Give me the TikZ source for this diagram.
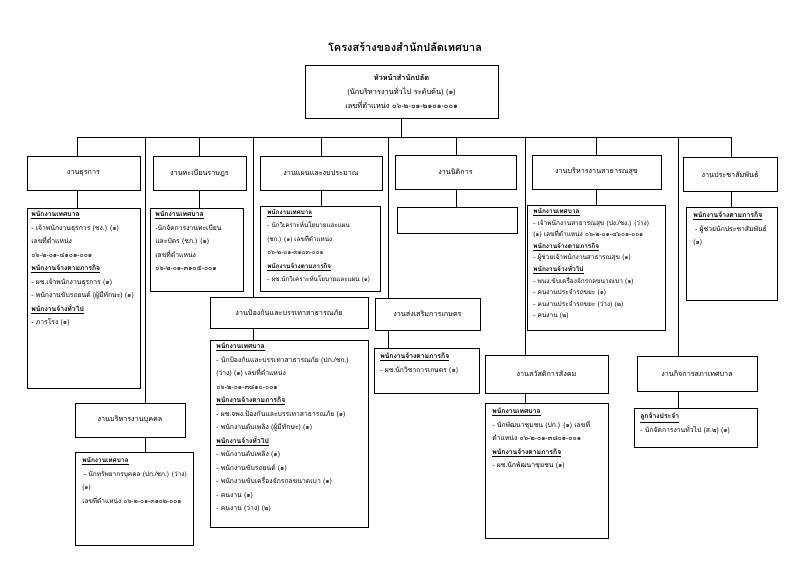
\documentclass[tikz,border=0pt]{standalone}
\usepackage{fontspec}
\setmainfont[Script=Thai]{Loma}
\usetikzlibrary{positioning}
\newcommand{\hd}[1]{\underline{\textbf{#1}}}

\begin{document}
\begin{tikzpicture}[x=1pt,y=-1pt,line width=0.6pt,
  hbox/.style={draw,inner sep=0pt,font=\fontsize{7.2}{9}\selectfont},
  cbox/.style={draw,inner sep=0pt,anchor=north west},
  ctxt/.style={anchor=north west,inner sep=0pt,align=left,font=\fontsize{6.8}{13.5}\selectfont}]
\useasboundingbox (0,0) rectangle (800,566);
\node[font=\bfseries\fontsize{11}{13}\selectfont] (title) at (405,47) {โครงสร้างของสำนักปลัดเทศบาล};
\node[hbox,minimum width=193,minimum height=53,align=center,font=\fontsize{7.4}{14}\selectfont] (top) at (401.5,91.5)
  {\textbf{หัวหน้าสำนักปลัด}\\(นักบริหารงานทั่วไป ระดับต้น) (๑)\\เลขที่ตำแหน่ง ๐๖-๒-๐๑-๒๑๐๑-๐๐๑};

\node[hbox,minimum width=113,minimum height=34] (h1) at (83.5,173) {งานธุรการ};
\node[hbox,minimum width=93,minimum height=34] (h2) at (199.5,173) {งานทะเบียนราษฎร};
\node[hbox,minimum width=122,minimum height=34] (h3) at (321,173) {งานแผนและงบประมาณ};
\node[hbox,minimum width=121,minimum height=34] (h4) at (455.5,172) {งานนิติการ};
\node[hbox,minimum width=129,minimum height=34] (h5) at (596.5,172) {งานบริหารงานสาธารณสุข};
\node[hbox,minimum width=94,minimum height=34] (h6) at (730,174) {งานประชาสัมพันธ์};
\node[hbox,minimum width=110,minimum height=34] (h7) at (130,420) {งานบริหารงานบุคคล};
\node[hbox,minimum width=158,minimum height=31] (h8) at (289,312.5) {งานป้องกันและบรรเทาสาธารณภัย};
\node[hbox,minimum width=105,minimum height=32] (h9) at (427.5,314) {งานส่งเสริมการเกษตร};
\node[hbox,minimum width=123,minimum height=38] (h10) at (546.5,374) {งานสวัสดิการสังคม};
\node[hbox,minimum width=120,minimum height=35] (h11) at (697,373.5) {งานกิจการสภาเทศบาล};

\node[cbox,minimum width=113,minimum height=180] (c1) at (27,208) {};
\node[cbox,minimum width=93,minimum height=83] (c2) at (150,208) {};
\node[cbox,minimum width=120,minimum height=85] (c3) at (260,206) {};
\node[cbox,minimum width=120,minimum height=26] (c4) at (397,207) {};
\node[cbox,minimum width=138,minimum height=125] (c5) at (527,205) {};
\node[cbox,minimum width=91,minimum height=93] (c6) at (686,207) {};
\node[cbox,minimum width=118,minimum height=93] (c7) at (75,452) {};
\node[cbox,minimum width=158,minimum height=187] (c8) at (210,340) {};
\node[cbox,minimum width=105,minimum height=45] (c9) at (374,348) {};
\node[cbox,minimum width=123,minimum height=135] (c10) at (485,403) {};
\node[cbox,minimum width=123,minimum height=39] (c11) at (634,408) {};

\node[ctxt] (t1) at ([xshift=4,yshift=-3]c1.north west) {\hd{พนักงานเทศบาล}\\- เจ้าพนักงานธุรการ (ชง.) (๑)\\เลขที่ตำแหน่ง\\๐๖-๒-๐๑-๔๑๐๑-๐๐๑\\\hd{พนักงานจ้างตามภารกิจ}\\- ผช.เจ้าพนักงานธุรการ (๑)\\- พนักงานขับรถยนต์ (ผู้มีทักษะ) (๑)\\\hd{พนักงานจ้างทั่วไป}\\- ภารโรง (๑)};
\node[ctxt] (t2) at ([xshift=5,yshift=-3]c2.north west) {\hd{พนักงานเทศบาล}\\-นักจัดการงานทะเบียน\\และบัตร (ชก.) (๑)\\เลขที่ตำแหน่ง\\๐๖-๒-๐๑-๓๑๐๕-๐๐๑};
\node[ctxt,font=\fontsize{6.3}{13.5}\selectfont] (t3) at ([xshift=7,yshift=-3]c3.north west) {\hd{พนักงานเทศบาล}\\- นักวิเคราะห์นโยบายและแผน\\(ชก.) (๑) เลขที่ตำแหน่ง\\๐๖-๒-๐๑-๓๑๐๓-๐๐๑\\\hd{พนักงานจ้างตามภารกิจ}\\- ผช.นักวิเคราะห์นโยบายและแผน (๑)};
\node[ctxt,font=\fontsize{6.5}{11.6}\selectfont] (t5) at ([xshift=6,yshift=-3]c5.north west) {\hd{พนักงานเทศบาล}\\- เจ้าพนักงานสาธารณสุข (ปง./ชง.) (ว่าง)\\(๑) เลขที่ตำแหน่ง ๐๖-๒-๐๑-๔๖๐๑-๐๐๑\\\hd{พนักงานจ้างตามภารกิจ}\\- ผู้ช่วยเจ้าพนักงานสาธารณสุข (๑)\\\hd{พนักงานจ้างทั่วไป}\\- พนง.ขับเครื่องจักรกลขนาดเบา (๑)\\- คนงานประจำรถขยะ (๑)\\- คนงานประจำรถขยะ (ว่าง) (๒)\\- คนงาน (๒)};
\node[ctxt] (t6) at ([xshift=7,yshift=-5]c6.north west) {\hd{พนักงานจ้างตามภารกิจ}\\\;- ผู้ช่วยนักประชาสัมพันธ์\\(๑)};
\node[ctxt,font=\fontsize{6.5}{13.5}\selectfont] (t7) at ([xshift=7,yshift=-5]c7.north west) {\hd{พนักงานเทศบาล}\\\;- นักทรัพยากรบุคคล (ปก./ชก.) (ว่าง)\\(๑)\\เลขที่ตำแหน่ง ๐๖-๒-๐๑-๓๑๐๒-๐๐๑};
\node[ctxt] (t8) at ([xshift=6,yshift=-3]c8.north west) {\hd{พนักงานเทศบาล}\\- นักป้องกันและบรรเทาสาธารณภัย (ปก./ชก.)\\(ว่าง) (๑) เลขที่ตำแหน่ง\\๐๖-๒-๐๑-๓๘๑๐-๐๐๑\\\hd{พนักงานจ้างตามภารกิจ}\\- ผช.จพง.ป้องกันและบรรเทาสาธารณภัย (๑)\\- พนักงานดับเพลิง (ผู้มีทักษะ) (๑)\\\hd{พนักงานจ้างทั่วไป}\\- พนักงานดับเพลิง (๑)\\- พนักงานขับรถยนต์ (๑)\\- พนักงานขับเครื่องจักรกลขนาดเบา (๑)\\- คนงาน (๑)\\- คนงาน (ว่าง) (๒)};
\node[ctxt] (t9) at ([xshift=6,yshift=-5]c9.north west) {\hd{พนักงานจ้างตามภารกิจ}\\- ผช.นักวิชาการเกษตร (๑)};
\node[ctxt] (t10) at ([xshift=7,yshift=-5]c10.north west) {\hd{พนักงานเทศบาล}\\- นักพัฒนาชุมชน (ปก.) (๑) เลขที่\\ตำแหน่ง ๐๖-๒-๐๑-๓๘๐๑-๐๐๑\\\hd{พนักงานจ้างตามภารกิจ}\\- ผช.นักพัฒนาชุมชน (๑)};
\node[ctxt] (t11) at ([xshift=6,yshift=-5]c11.north west) {\hd{ลูกจ้างประจำ}\\- นักจัดการงานทั่วไป (ส.๒) (๑)};

\coordinate (k1) at (77,137);
\coordinate (k6) at (731,137);
\draw (k1) -- (k6);
\draw (top.south) -- (top.south |- k1);
\foreach \x/\h/\c in {77/h1/c1,199/h2/c2,321/h3/c3,456/h4/c4,596/h5/c5,731/h6/c6}
  \draw (\x,137) -- (\x,0 |- \h.north) (\x,0 |- \h.south) -- (\x,0 |- \c.north);
\foreach \x/\h/\c in {145/h7/c7,253/h8/c8,388/h9/c9,525/h10/c10,678/h11/c11}
  \draw (\x,137) -- (\x,0 |- \h.north) (\x,0 |- \h.south) -- (\x,0 |- \c.north);
\end{tikzpicture}
\end{document}
